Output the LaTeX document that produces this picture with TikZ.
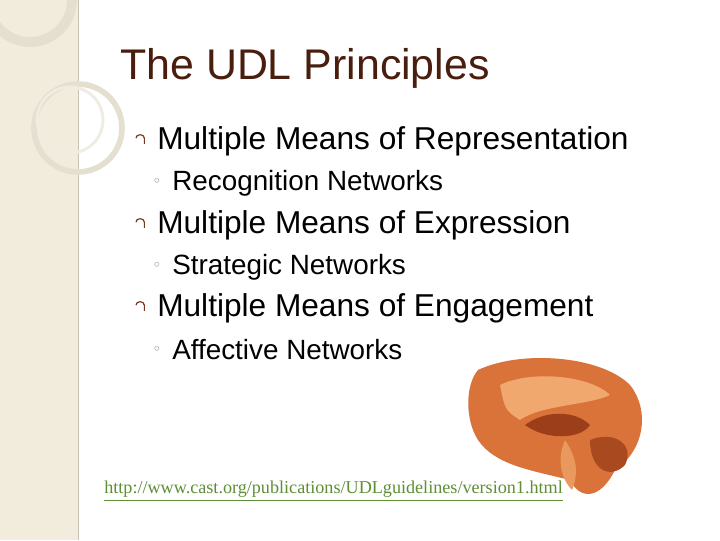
\documentclass[tikz,border=0pt]{standalone}
\usepackage{fontspec}
\setmainfont{Liberation Sans}
\newfontfamily\linkfont{Liberation Serif}
\newfontfamily\symfont{DejaVu Sans}
\usetikzlibrary{positioning}
\definecolor{titlebrown}{HTML}{4A1E0E}
\definecolor{stripbg}{HTML}{F1ECDC}
\definecolor{ringcol}{HTML}{E4DFCF}
\definecolor{linkgreen}{HTML}{5E8F35}
\definecolor{brainor}{HTML}{D9733A}
\definecolor{braindk}{HTML}{9C3E1A}
\definecolor{brainlt}{HTML}{F0A86E}
\tikzset{
  mainitem/.style={anchor=west,font=\fontsize{22.5}{27}\selectfont,inner sep=0pt},
  subitem/.style={anchor=west,font=\fontsize{19.8}{23}\selectfont,inner sep=0pt},
}
\begin{document}
\begin{tikzpicture}[x=0.025cm,y=-0.025cm]
\useasboundingbox (0,0) rectangle (720,540);
\fill[white] (0,0) rectangle (720,540);
% left strip
\fill[stripbg] (0,0) rectangle (78,540);
\draw[ringcol!70!gray,line width=0.6pt] (78,0) -- (78,540);
% rings
\draw[ringcol,line width=7pt] (30,0) circle (42);
\draw[ringcol,line width=4pt] (78,128) circle (44);
\draw[ringcol!60,line width=2pt] (70,120) circle (33);
% title
\node (title) [anchor=west,text=titlebrown,font=\fontsize{30.5}{36}\selectfont,inner sep=0pt] at (120,68) {The UDL Principles};
% items
\node (rep) [mainitem] at (157,141) {Multiple Means of Representation};
\node (recog) [subitem] at (172,183) {Recognition Networks};
\node (expr) [mainitem] at (157,225) {Multiple Means of Expression};
\node (strat) [subitem] at (172,267) {Strategic Networks};
\node (eng) [mainitem] at (157,308) {Multiple Means of Engagement};
\node (aff) [subitem] at (172,350) {Affective Networks};
\foreach \n in {rep,expr,eng}
  \draw[titlebrown!70!brainor,line width=0.8pt] ([xshift=-15pt,yshift=2pt]\n.west) arc (180:0:3pt and 2.5pt) -- ++(0,-4pt);
\foreach \n in {recog,strat,aff}
  \node[anchor=east,font=\symfont\fontsize{11}{13}\selectfont,text=gray] at ([xshift=-4pt]\n.west) {◦};
% brain
\fill[brainor] (478,370) .. controls (520,350) and (600,355) .. (630,385)
  .. controls (650,410) and (645,450) .. (615,470)
  .. controls (600,500) and (580,500) .. (570,480)
  .. controls (530,470) and (495,465) .. (478,440)
  .. controls (465,420) and (465,385) .. (478,370) -- cycle;
\fill[brainlt] (500,385) .. controls (530,370) and (590,375) .. (610,395)
  .. controls (590,405) and (540,405) .. (520,420) .. controls (505,410) .. (500,385) -- cycle;
\fill[braindk] (525,425) .. controls (545,410) and (575,410) .. (590,425)
  .. controls (580,440) and (545,440) .. (525,425) -- cycle;
\fill[braindk!80!brainor] (590,440) .. controls (615,430) and (635,445) .. (625,465)
  .. controls (610,480) and (590,470) .. (590,440) -- cycle;
\fill[brainlt!70!brainor] (565,440) .. controls (575,455) and (580,470) .. (572,490)
  .. controls (562,480) and (556,460) .. (565,440) -- cycle;
% link
\node (link) [anchor=west,font=\linkfont\fontsize{12.9}{15}\selectfont,text=linkgreen,inner sep=0pt] at (104,491) {\underline{http://www.cast.org/publications/UDLguidelines/version1.html}};
\end{tikzpicture}
\end{document}
